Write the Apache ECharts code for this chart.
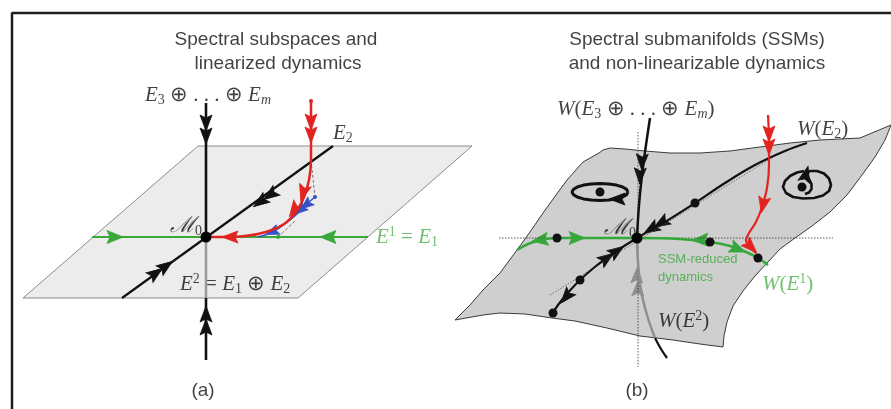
<!DOCTYPE html>
<html>
<head>
<meta charset="utf-8">
<script src="https://cdn.jsdelivr.net/npm/echarts@6/dist/echarts.min.js"></script>
<style>
html, body { margin: 0; padding: 0; background: #fff; }
#chart { width: 891px; height: 409px; }
</style>
</head>
<body>
<div id="chart"></div>
<script>
// everything lives on hidden value axes spanning the picture (x 0..891, y 0..409 downwards)
const frame = [[12, 409], [12, 13], [891, 13]]

// (a) spectral subspaces
const planeA = [[198, 146], [472, 146], [298, 298], [23, 298]]
const vTopA = [[206, 103], [206, 237]]
const vBehindA = [[206, 237], [206, 298]]
const vBottomA = [[206, 298], [206, 360]]
const e2LineA = [[122, 298], [333, 146]]
const e1LineA = [[92, 237], [368, 237]]
const redA = [[311, 101], [311, 140], [311, 160], [309, 180], [304, 197], [296, 212], [284, 224], [266, 232], [245, 236], [220, 237], [206, 237]]
const blueA = [[315, 197], [308, 203], [300, 211], [290, 220], [279, 228], [268, 234], [258, 237]]
const dashA = [[311, 160], [315, 197]]
const dash2A = [[278, 237], [295, 221]]

// (b) spectral submanifolds
const surfaceB = [
  [599, 153], [603, 150], [610, 148], [625, 149], [645, 151], [670, 153], [700, 153], [730, 151], [760, 147],
  [790, 143], [820, 140], [860, 138], [891, 125],
  [885, 140], [875, 157], [862, 175], [847, 195], [830, 212], [812, 226], [795, 238], [780, 249], [768, 262],
  [755, 276], [743, 291], [733, 306], [727, 322], [724, 336], [723, 347],
  [700, 344], [673, 340], [640, 336], [607, 328], [575, 321], [552, 318], [525, 314], [500, 313], [483, 315], [455, 320],
  [470, 305], [483, 290], [500, 273], [517, 250], [530, 232], [543, 213], [556, 195], [567, 180], [583, 162], [599, 153]
]
const wStableB = [[650, 118], [646, 145], [642, 175], [639, 205], [637, 238]]
const wE2behindB = [[637, 238], [638, 262], [641, 290], [647, 315], [655, 338]]
const wE2belowB = [[655, 338], [661, 349], [667, 358]]
const vDotB = [[638, 132], [638, 367]]
const hDotB = [[499, 238], [833, 238]]
const tanDotB = [[550, 295], [773, 157]]
const wE2curveB = [[553, 313], [558, 305], [566, 295], [580, 280], [596, 266], [615, 252], [637, 238], [665, 222], [695, 203], [725, 183], [755, 165], [785, 151], [807, 143]]
const greenB = [[517, 250], [528, 244], [541, 240], [557, 238], [600, 238], [637, 238], [680, 239], [710, 242], [730, 246], [746, 252], [758, 258], [768, 265]]
const redB = [[768, 115], [769, 140], [769, 165], [767, 188], [762, 207], [756, 222], [749, 233], [746, 240], [749, 246], [756, 253]]
const ellipseB = [
  [628, 192], [626.6, 194.6], [622.7, 197], [616.5, 198.9], [608.7, 200.1], [600, 200.5], [591.3, 200.1],
  [583.5, 198.9], [577.3, 197], [573.4, 194.6], [572, 192], [573.4, 189.4], [577.3, 187], [583.5, 185.1],
  [591.3, 183.9], [600, 183.5], [608.7, 183.9], [616.5, 185.1], [622.7, 187], [626.6, 189.4], [628, 192]
]
const spiralB = [
  [805, 194], [809, 192.5], [811.5, 189], [811.5, 184], [809, 179], [806, 174], [810, 171], [817, 171],
  [824, 173.5], [829, 178.5], [831, 185], [829, 191], [823, 195.5], [814, 198], [803, 198.5], [793, 197],
  [786, 193], [783, 187], [785, 181], [790, 176], [797, 172.5], [804, 171]
]

// arrows: [x, y, heading in degrees, 0 = up, counter-clockwise]
const arrowsBlack = [
  [206, 123, 180], [206, 136, 180], [206, 314, 0], [206, 327, 0],
  [260, 202, 126], [270, 195, 126], [156, 273, -54], [166, 266, -54],
  [642, 162, 178], [640, 176, 178], [651, 229, 121], [661, 223, 121],
  [607, 258, -55], [617, 251, -55], [566, 297, 140], [617, 199, 90], [806, 174, -15]
]
const arrowsGreen = [[115, 237, -90], [328, 237, 90], [540, 240, 98], [577, 238, -90], [700, 240, 92], [738, 249, -112]]
const arrowsRed = [[311, 122, 180], [311, 135, 180], [303, 193, 163], [294, 210, 145], [230, 237, 90], [769, 134, 180], [769, 147, 180], [763, 205, 168], [751, 247, -135]]
const arrowsBlue = [[306, 205, 129], [300, 210, 129], [272, 232, 112]]
const arrowsGray = [[637, 275, -2], [638, 288, -2]]

const originDots = [[206, 237], [637, 238]]
const dotsBlack = [[553, 313], [580, 280], [695, 203], [557, 238], [710, 242], [758, 258], [600, 192], [802, 187]]
const dotsRed = [[311, 101]]
const dotsBlue = [[315, 197]]
const dotsGreen = [[278, 237]]

// text
const textsCenter = [
  [276, 40, 'Spectral subspaces and'], [278, 64, 'linearized dynamics'],
  [697, 40, 'Spectral submanifolds (SSMs)'], [697, 64, 'and non-linearizable dynamics'],
  [203, 391, '(a)'], [637, 391, '(b)']
]
const textsGreenSmall = [[658, 259, 'SSM-reduced'], [658, 277, 'dynamics']]
const mathBlack = [
  [145, 95, '{i|E}{s|3}{r| ⊕ . . . ⊕ }{i|E}{sm|m}'],
  [333, 133, '{i|E}{s|2}'],
  [170, 226, '{c|ℳ}{s|0}'],
  [180, 284, '{i|E}{p|2}{r| = }{i|E}{s|1}{r| ⊕ }{i|E}{s|2}'],
  [557, 109, '{i|W}{r|(}{i|E}{s|3}{r| ⊕ . . . ⊕ }{i|E}{sm|m}{r|)}'],
  [797, 129, '{i|W}{r|(}{i|E}{s|2}{r|)}'],
  [604, 228, '{c|ℳ}{s|0}'],
  [658, 321, '{i|W}{r|(}{i|E}{p|2}{r|)}']
]
const mathGreen = [
  [376, 237, '{i|E}{p|1}{r| = }{i|E}{s|1}'],
  [762, 284, '{i|W}{r|(}{i|E}{p|1}{r|)}']
]

const serif = 'Liberation Serif'
const mathRich = {
  i: { fontFamily: serif, fontStyle: 'italic', fontSize: 21, lineHeight: 24 },
  c: { fontFamily: 'DejaVu Serif', fontStyle: 'italic', fontSize: 22, lineHeight: 24 },
  r: { fontFamily: serif, fontSize: 21, lineHeight: 24 },
  s: { fontFamily: serif, fontSize: 14, lineHeight: 14, verticalAlign: 'bottom' },
  sm: { fontFamily: serif, fontStyle: 'italic', fontSize: 14, lineHeight: 14, verticalAlign: 'bottom' },
  p: { fontFamily: serif, fontSize: 14, lineHeight: 14, verticalAlign: 'top' },
}

// barbed arrow head, tip up
const arrowPath = 'path://M6,0L12,16L6,13L0,16Z'

function line(data, color, width, opts = {}) {
  return {
    type: 'line',
    data,
    symbol: 'none',
    silent: true,
    smooth: opts.smooth || false,
    lineStyle: { color, width, type: opts.dash || 'solid', opacity: 1 },
  }
}

function arrows(data, color, size = [12, 16]) {
  return {
    type: 'scatter',
    silent: true,
    symbol: arrowPath,
    symbolSize: size,
    itemStyle: { color, opacity: 1, borderColor: color, borderWidth: 0.8 },
    data: data.map(a => ({ value: [a[0], a[1]], symbolRotate: a[2] })),
  }
}

function dots(data, color, size) {
  return { type: 'scatter', silent: true, symbolSize: size, itemStyle: { color, opacity: 1 }, data, z: 3 }
}

function polygon(points, fill, stroke) {
  return {
    type: 'custom',
    silent: true,
    data: [[0, 0]],
    renderItem: (params, api) => ({
      type: 'polygon',
      shape: { points: points.map(p => api.coord(p)) },
      style: { fill, stroke, lineWidth: 1 },
    }),
  }
}

function texts(data, label, position) {
  return {
    type: 'scatter',
    silent: true,
    symbolSize: 0,
    data,
    label: Object.assign({
      show: true,
      position,
      distance: 0,
      formatter: p => p.value[2],
    }, label),
  }
}

const chart = echarts.init(document.getElementById('chart'), null, { renderer: 'canvas' })
chart.setOption({
  animation: false,
  backgroundColor: '#ffffff',
  grid: { left: 0, right: 0, top: 0, bottom: 0 },
  xAxis: { type: 'value', min: 0, max: 891, show: false },
  yAxis: { type: 'value', min: 0, max: 409, inverse: true, show: false },
  series: [
    line(frame, '#1e1e1e', 2.5),
    polygon(planeA, '#ececec', '#8c8c8c'),
    polygon(surfaceB, '#cfcfcf', '#3a3a3a'),

    // (a)
    line(vBehindA, '#9a9a9a', 2.5),
    line(vTopA, '#111', 2.6),
    line(vBottomA, '#111', 2.6),
    line(e2LineA, '#111', 2.2),
    line(e1LineA, '#3aa93a', 2.2),
    line(dashA, '#555', 0.8, { dash: [3, 2] }),
    line(dash2A, '#555', 0.8, { dash: [3, 2] }),
    line(blueA, '#3451c6', 1.6, { smooth: 0.4 }),
    line(redA, '#e2231f', 2.5, { smooth: 0.4 }),

    // (b)
    line(vDotB, '#333', 0.8, { dash: [1.5, 1.5] }),
    line(hDotB, '#333', 0.8, { dash: [1.5, 1.5] }),
    line(tanDotB, '#555', 0.8, { dash: [1.5, 1.5] }),
    line(wE2behindB, '#8f8f8f', 2.5, { smooth: 0.4 }),
    line(wE2belowB, '#111', 2.2, { smooth: 0.4 }),
    line(wStableB, '#111', 2.5, { smooth: 0.4 }),
    line(wE2curveB, '#111', 2.2, { smooth: 0.4 }),
    line(greenB, '#36a73a', 2.5, { smooth: 0.4 }),
    line(redB, '#e2231f', 2.2, { smooth: 0.3 }),
    line(ellipseB, '#111', 3),
    line(spiralB, '#111', 2.6),

    arrows(arrowsBlack, '#111'),
    arrows(arrowsGreen, '#36a73a', [13, 16]),
    arrows(arrowsRed, '#e2231f'),
    arrows(arrowsBlue, '#3451c6', [10, 13]),
    arrows(arrowsGray, '#8f8f8f'),

    dots(originDots, '#000', 11),
    dots(dotsBlack, '#111', 9),
    dots(dotsRed, '#e2231f', 4),
    dots(dotsBlue, '#3451c6', 4),
    dots(dotsGreen, '#36a73a', 4),

    texts(textsCenter, { color: '#111', fontFamily: 'Liberation Sans', fontSize: 19 }, 'inside'),
    texts(textsGreenSmall, { color: '#3aa93a', fontFamily: 'Liberation Sans', fontSize: 13 }, 'right'),
    texts(mathBlack, { color: '#111', rich: mathRich }, 'right'),
    texts(mathGreen, { color: '#4cb04c', rich: mathRich }, 'right'),
  ],
})
</script>
</body>
</html>
